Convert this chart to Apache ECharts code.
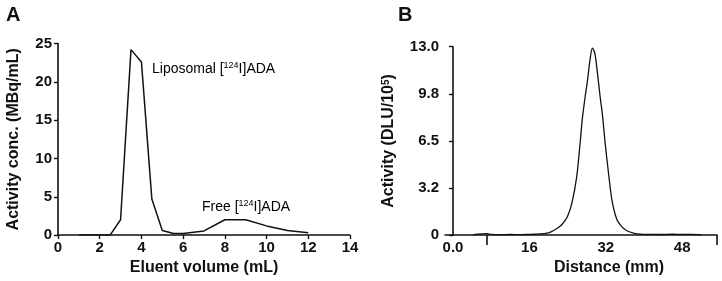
<!DOCTYPE html>
<html><head><meta charset="utf-8">
<script src="https://cdn.jsdelivr.net/npm/echarts@6/dist/echarts.min.js"></script>
<style>html,body{margin:0;padding:0;background:#fff}#c{width:722px;height:281px}</style>
</head><body><div id="c"></div>
<script>
// Panel A: size-exclusion elution profile
const elutionVolume = [1, 2, 2.5, 3, 3.5, 4, 4.5, 5, 5.5, 6, 7, 8, 9, 10, 11, 12];
const activityConc  = [0, 0, 0, 2, 24.2, 22.6, 4.7, 0.6, 0.25, 0.2, 0.55, 2, 2, 1.2, 0.6, 0.3];
const xTicksA = [0, 2, 4, 6, 8, 10, 12, 14];
const yTicksA = [0, 5, 10, 15, 20, 25];

// Panel B: radio-TLC profile
const distance = [4.2, 6, 7, 8, 10, 12, 14, 16, 17, 18, 19, 20, 21, 22, 23, 24, 24.9, 25.9, 26.6, 27.1, 27.7, 28.2, 28.7, 29.2, 29.7, 30.25, 30.8, 31.3, 31.9, 32.6, 33.3, 34.3, 35.3, 36.4, 38, 39.2, 41, 43.4, 46, 48, 50, 52.1];
const activityB = [0.03, 0.08, 0.1, 0.05, 0.03, 0.04, 0.03, 0.05, 0.06, 0.08, 0.1, 0.15, 0.3, 0.5, 0.8, 1.3, 2.2, 4.0, 6.25, 8.05, 9.6, 10.75, 12.1, 12.9, 12.55, 11.2, 9.6, 8.3, 6.25, 4.2, 2.4, 1.1, 0.6, 0.3, 0.12, 0.07, 0.05, 0.04, 0.06, 0.04, 0.05, 0.03];
const xLabelsB = [0, 16, 32, 48];
const xLabelTextB = ['0.0', '16', '32', '48'];
const yTicksB = [0, 3.25, 6.5, 9.75, 13];
const yLabelTextB = ['0', '3.2', '6.5', '9.8', '13.0'];

const FONT = 'Liberation Sans, Arial, sans-serif';
const axisLine = {show: true, lineStyle: {color: '#111', width: 1.6}};
const tickLbl = {color: '#111', fontFamily: FONT, fontWeight: 'bold', fontSize: 15};
const nameStyle = {color: '#111', fontFamily: FONT, fontWeight: 'bold', fontSize: 16,
  rich: {sup: {fontSize: 10, verticalAlign: 'top', fontFamily: FONT, fontWeight: 'bold', color: '#111'}}};
const supRich = {sup: {fontSize: 9, verticalAlign: 'top', fontFamily: FONT, color: '#222', lineHeight: 10, padding: [0, 0, 0, 0]},
                 n: {fontSize: 14, fontFamily: FONT, color: '#222', lineHeight: 16}};

const chart = echarts.init(document.getElementById('c'), null, {renderer: 'canvas'});
chart.setOption({
  animation: false,
  backgroundColor: '#fff',
  grid: [
    {left: 58, top: 43.5, width: 292, height: 196},
    {left: 445, top: 46.7, width: 272, height: 192.6}
  ],
  xAxis: [
    {gridIndex: 0, type: 'value', min: xTicksA[0], max: xTicksA[xTicksA.length - 1], interval: 2,
     axisLine, splitLine: {show: false},
     axisTick: {show: true, length: 4, lineStyle: {color: '#111', width: 1.4}},
     axisLabel: Object.assign({margin: 5}, tickLbl),
     name: 'Eluent volume (mL)', nameLocation: 'middle', nameGap: 24, nameTextStyle: nameStyle},
    {gridIndex: 1, type: 'value', min: -1.68, max: 55.3,
     axisLine, splitLine: {show: false},
     axisTick: {show: true, length: 10, customValues: [7, 55.3], lineStyle: {color: '#111', width: 1.6}},
     axisLabel: Object.assign({margin: 5, customValues: xLabelsB,
       formatter: v => xLabelTextB[xLabelsB.indexOf(v)] ?? ''}, tickLbl),
     name: 'Distance (mm)', nameLocation: 'middle', nameGap: 22,
     nameTextStyle: Object.assign({}, nameStyle, {padding: [0, 0, 0, 56]})}
  ],
  yAxis: [
    {gridIndex: 0, type: 'value', min: 0, max: 25, interval: 5,
     axisLine, splitLine: {show: false},
     axisTick: {show: true, length: 4, lineStyle: {color: '#111', width: 1.4}},
     axisLabel: Object.assign({margin: 6}, tickLbl),
     name: 'Activity conc. (MBq/mL)', nameLocation: 'middle', nameGap: 36, nameTextStyle: nameStyle},
    {gridIndex: 1, type: 'value', min: 0, max: 13, interval: 3.25,
     axisLine, splitLine: {show: false},
     axisTick: {show: true, length: 4, lineStyle: {color: '#111', width: 1.4}},
     axisLabel: Object.assign({margin: 6,
       formatter: v => { const i = yTicksB.findIndex(t => Math.abs(t - v) < 1e-6); return i >= 0 ? yLabelTextB[i] : ''; }}, tickLbl),
     name: 'Activity (DLU/10{sup|5})', nameLocation: 'middle', nameGap: 34,
     nameTextStyle: Object.assign({}, nameStyle, {padding: [0, 0, 14, 0]})}
  ],
  series: [
    {type: 'line', xAxisIndex: 0, yAxisIndex: 0, symbol: 'none',
     data: elutionVolume.map((x, i) => [x, activityConc[i]]),
     lineStyle: {color: '#111', width: 1.5}},
    {type: 'line', xAxisIndex: 1, yAxisIndex: 1, symbol: 'none', smooth: 0.3,
     data: distance.map((x, i) => [x, activityB[i]]),
     lineStyle: {color: '#111', width: 1.3}}
  ],
  graphic: [
    {type: 'text', left: 6, top: 5, style: {text: 'A', fontFamily: FONT, fontWeight: 'bold', fontSize: 20, fill: '#111'}},
    {type: 'text', left: 398, top: 5, style: {text: 'B', fontFamily: FONT, fontWeight: 'bold', fontSize: 20, fill: '#111'}},
    {type: 'text', left: 152, top: 61, style: {text: '{n|Liposomal [}{sup|124}{n|I]ADA}', rich: supRich}},
    {type: 'text', left: 202, top: 199, style: {text: '{n|Free [}{sup|124}{n|I]ADA}', rich: supRich}}
  ]
});
</script></body></html>
